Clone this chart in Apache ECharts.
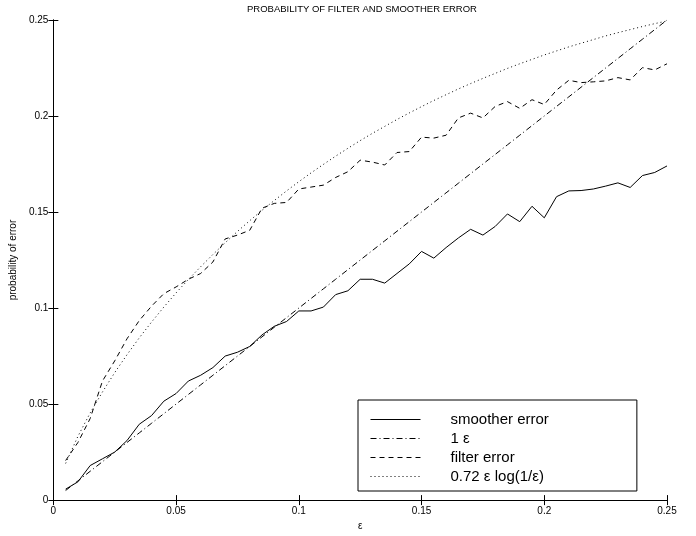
<!DOCTYPE html>
<html>
<head>
<meta charset="utf-8">
<script src="https://cdn.jsdelivr.net/npm/echarts@6/dist/echarts.min.js"></script>
<style>
    html, body { margin: 0; padding: 0; background: #fff; }
    #grafico { width: 696px; height: 536px; }
</style>
</head>
<body>
<div id="grafico"></div>
<script>
// valores de epsilon (eixo x)
var epsilon = [0.005, 0.010, 0.015, 0.020, 0.025, 0.030, 0.035, 0.040, 0.045, 0.050,
    0.055, 0.060, 0.065, 0.070, 0.075, 0.080, 0.085, 0.090, 0.095, 0.100,
    0.105, 0.110, 0.115, 0.120, 0.125, 0.130, 0.135, 0.140, 0.145, 0.150,
    0.155, 0.160, 0.165, 0.170, 0.175, 0.180, 0.185, 0.190, 0.195, 0.200,
    0.205, 0.210, 0.215, 0.220, 0.225, 0.230, 0.235, 0.240, 0.245, 0.250];

var erro_suavizador = [0.0057, 0.0095, 0.0180, 0.0215, 0.0250, 0.0310, 0.0395, 0.0440, 0.0515, 0.0555,
    0.0620, 0.0650, 0.0690, 0.0750, 0.0770, 0.0800, 0.0860, 0.0905, 0.0930, 0.0985,
    0.0985, 0.1005, 0.1070, 0.1090, 0.1150, 0.1150, 0.1130, 0.1180, 0.1230, 0.1295,
    0.1260, 0.1315, 0.1365, 0.1410, 0.1380, 0.1425, 0.1490, 0.1450, 0.1530, 0.1470,
    0.1580, 0.1610, 0.1612, 0.1620, 0.1635, 0.1652, 0.1628, 0.1690, 0.1706, 0.1740];

var um_epsilon = [0.005, 0.010, 0.015, 0.020, 0.025, 0.030, 0.035, 0.040, 0.045, 0.050,
    0.055, 0.060, 0.065, 0.070, 0.075, 0.080, 0.085, 0.090, 0.095, 0.100,
    0.105, 0.110, 0.115, 0.120, 0.125, 0.130, 0.135, 0.140, 0.145, 0.150,
    0.155, 0.160, 0.165, 0.170, 0.175, 0.180, 0.185, 0.190, 0.195, 0.200,
    0.205, 0.210, 0.215, 0.220, 0.225, 0.230, 0.235, 0.240, 0.245, 0.250];

var erro_filtro = [0.0206, 0.0300, 0.0425, 0.0620, 0.0725, 0.0840, 0.0935, 0.1010, 0.1075, 0.1110,
    0.1150, 0.1180, 0.1240, 0.1360, 0.1380, 0.1405, 0.1520, 0.1545, 0.1550, 0.1620,
    0.1630, 0.1640, 0.1680, 0.1710, 0.1770, 0.1760, 0.1745, 0.1810, 0.1815, 0.1890,
    0.1885, 0.1900, 0.1990, 0.2015, 0.1990, 0.2050, 0.2075, 0.2040, 0.2085, 0.2060,
    0.2135, 0.2186, 0.2174, 0.2178, 0.2183, 0.2200, 0.2188, 0.2252, 0.2240, 0.2272];

var limite_log = [0.0191, 0.0332, 0.0454, 0.0563, 0.0664, 0.0757, 0.0845, 0.0927, 0.1005, 0.1079,
    0.1149, 0.1215, 0.1279, 0.1340, 0.1399, 0.1455, 0.1509, 0.1560, 0.1610, 0.1658,
    0.1704, 0.1748, 0.1791, 0.1832, 0.1872, 0.1910, 0.1946, 0.1982, 0.2016, 0.2049,
    0.2081, 0.2111, 0.2141, 0.2169, 0.2196, 0.2222, 0.2248, 0.2272, 0.2295, 0.2318,
    0.2339, 0.2360, 0.2379, 0.2398, 0.2417, 0.2434, 0.2450, 0.2466, 0.2481, 0.2495];

var ticks_x = [0, 0.05, 0.1, 0.15, 0.2, 0.25];

function pares(ys) {
    var lista = [];
    for (var i = 0; i < epsilon.length; i++) {
        lista.push([epsilon[i], ys[i]]);
    }
    return lista;
}

var fonte = 'Liberation Sans';

function linha(nome, ys, tipo) {
    return {
        name: nome,
        type: 'line',
        data: pares(ys),
        showSymbol: false,
        symbol: 'none',
        lineStyle: { color: '#000', width: 1, type: tipo },
        itemStyle: { color: '#000' }
    };
}

var eixoBase = {
    type: 'value',
    min: 0,
    max: ticks_x[ticks_x.length - 1],
    interval: ticks_x[1],
    splitLine: { show: false },
    axisLine: { show: true, lineStyle: { color: '#000', width: 1 } },
    axisTick: { show: true, inside: true, length: 5, lineStyle: { color: '#000' } }
};

echarts.init(document.querySelector('#grafico'), null, { renderer: 'canvas' }).setOption({
    animation: false,
    backgroundColor: '#fff',
    title: {
        text: 'PROBABILITY OF FILTER AND SMOOTHER ERROR',
        left: 357,
        textAlign: 'center',
        top: -1,
        textStyle: { fontFamily: fonte, fontSize: 9.5, fontWeight: 'normal', color: '#000' }
    },
    grid: { left: 48, right: 29, top: 20, bottom: 30 },
    legend: {
        orient: 'vertical',
        left: 358,
        top: 400,
        padding: [12, 88, 7, 12],
        borderColor: '#000',
        borderWidth: 1,
        backgroundColor: '#fff',
        itemWidth: 50,
        itemHeight: 14,
        itemGap: 4,
        itemStyle: { color: 'transparent', borderWidth: 0, opacity: 0 },
        lineStyle: { width: 1 },
        textStyle: { fontFamily: fonte, fontSize: 15, color: '#000', padding: [0, 0, 0, 25] },
        data: ['smoother error', '1 ε', 'filter error', '0.72 ε log(1/ε)']
    },
    xAxis: [
        Object.assign({}, eixoBase, {
            position: 'bottom',
            name: 'ε',
            nameLocation: 'middle',
            nameGap: 20,
            nameTextStyle: { fontFamily: fonte, fontSize: 10, color: '#000' },
            axisLabel: { fontFamily: fonte, fontSize: 10, color: '#000', margin: 6 }
        }),
        Object.assign({}, eixoBase, {
            position: 'top',
            axisLabel: { show: false }
        })
    ],
    yAxis: [
        Object.assign({}, eixoBase, {
            position: 'left',
            name: 'probability of error',
            nameLocation: 'middle',
            nameGap: 30,
            nameTextStyle: { fontFamily: fonte, fontSize: 10, color: '#000' },
            axisLabel: { fontFamily: fonte, fontSize: 10, color: '#000', margin: 5 }
        }),
        Object.assign({}, eixoBase, {
            position: 'right',
            axisLabel: { show: false }
        })
    ],
    series: [
        linha('smoother error', erro_suavizador, 'solid'),
        linha('1 ε', um_epsilon, [6, 3, 1, 3]),
        linha('filter error', erro_filtro, [5, 4]),
        linha('0.72 ε log(1/ε)', limite_log, [1, 3])
    ]
});
</script>
</body>
</html>
